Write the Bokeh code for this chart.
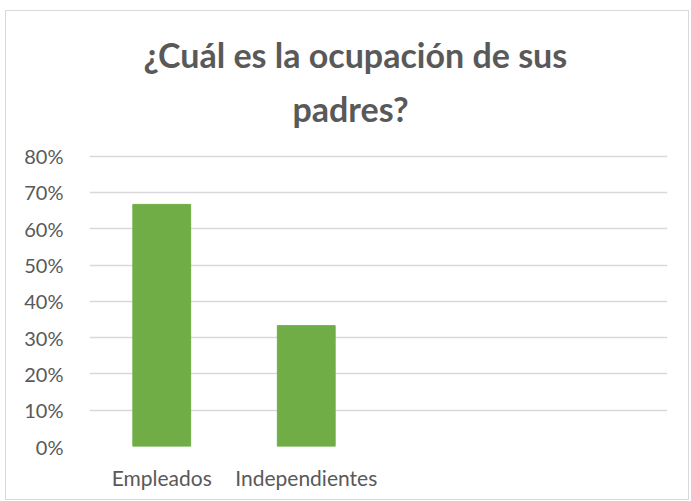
from bokeh.plotting import figure
from bokeh.models import NumeralTickFormatter, SingleIntervalTicker, FactorRange, Title
from bokeh.embed import file_html
from bokeh.resources import INLINE

categories = ["Empleados", "Independientes", " ", "  "]
shown = ["Empleados", "Independientes"]
values = [0.667, 0.333]
title_lines = ["¿Cuál es la ocupación de sus", "padres?"]

p = figure(x_range=FactorRange(factors=categories), y_range=(0, 0.81),
           width=684, height=490, output_backend="svg", toolbar_location=None,
           min_border_left=83, min_border_right=23, min_border_bottom=55,
           min_border_top=141)
p.styles = {"border": "1px solid #d9d9d9", "margin-left": "5px", "margin-top": "10px"}

settings = [(47, 203), (-25, 54)]
for line, (so, off) in zip(reversed(title_lines), settings):
    t = Title(text=line, align="left", text_font="Lato", text_font_style="bold",
              text_font_size="34px", text_color="#595959",
              standoff=so, offset=off)
    p.add_layout(t, "above")

p.vbar(x=shown, top=values, width=0.4, color="#70AD47")

p.yaxis.ticker = SingleIntervalTicker(interval=0.1)
p.yaxis.formatter = NumeralTickFormatter(format="0%")
for ax in (p.xaxis, p.yaxis):
    ax.axis_line_color = None
    ax.major_tick_line_color = None
    ax.minor_tick_line_color = None
    ax.major_label_text_font = "Lato"
    ax.major_label_text_color = "#595959"
p.yaxis.major_label_text_font_size = "20px"
p.xaxis.major_label_text_font_size = "21px"
p.yaxis.major_label_standoff = 20
p.xaxis.major_label_standoff = 12
p.xgrid.grid_line_color = None
p.ygrid.grid_line_color = "#d9d9d9"
p.ygrid.grid_line_width = 1.5
p.outline_line_color = None
p.x_range.range_padding = 0
p.x_range.group_padding = 0

open("out.html", "w").write(file_html(p, INLINE))
